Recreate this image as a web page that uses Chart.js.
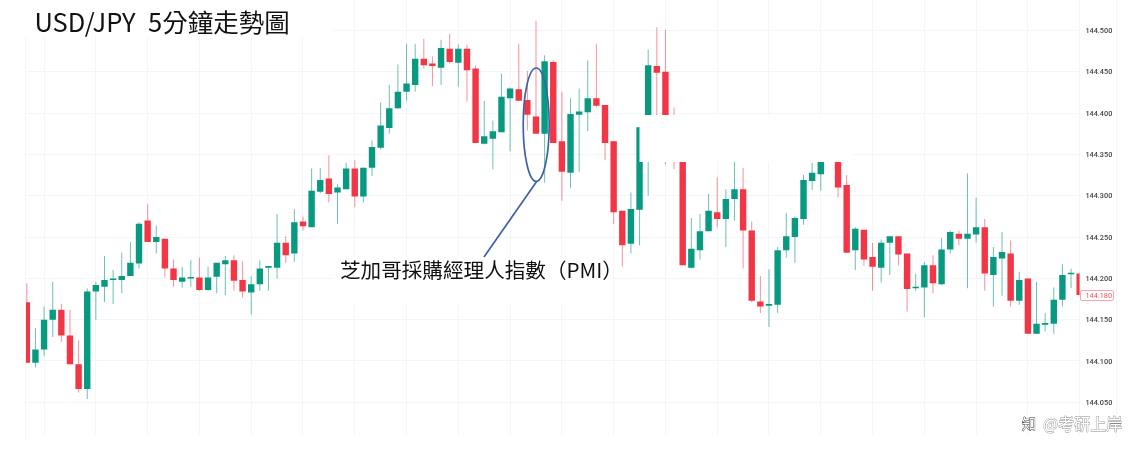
<!DOCTYPE html>
<html>
<head>
<meta charset="utf-8">
<title>USD/JPY 5分鐘走勢圖</title>
<script src="https://cdn.jsdelivr.net/npm/chart.js@4/dist/chart.umd.min.js"></script>
<style>
html, body { margin: 0; padding: 0; background: #fff; }
canvas { display: block; filter: blur(0.35px); }
</style>
</head>
<body>
<canvas id="kChart" width="1137" height="456"></canvas>
<script>
const titleText = 'USD/JPY  5分鐘走勢圖';
const noteText = '芝加哥採購經理人指數（PMI）';
const lastPriceLabel = '144.180';
const watermarkText = '@考研上岸';
const tickLabels = [144.05, 144.10, 144.15, 144.20, 144.25, 144.30, 144.35, 144.40, 144.45, 144.50];

const opens = [144.171,144.098,144.114,144.150,144.162,144.131,144.096,144.066,144.184,144.190,
  144.198,144.198,144.203,144.218,144.270,144.244,144.248,144.212,144.196,144.200,
  144.201,144.186,144.202,144.217,144.222,144.198,144.183,144.193,144.213,144.213,
  144.243,144.230,144.269,144.262,144.305,144.321,144.304,144.308,144.333,144.299,
  144.334,144.358,144.382,144.406,144.426,144.434,144.466,144.460,144.455,144.478,
  144.461,144.478,144.454,144.363,144.369,144.377,144.418,144.429,144.416,144.396,
  144.375,144.462,144.366,144.328,144.398,144.401,144.418,144.410,144.366,144.282,
  144.242,144.283,144.352,144.457,144.450,144.385,144.350,144.213,144.234,144.257,
  144.280,144.272,144.296,144.308,144.258,144.172,144.167,144.168,144.234,144.250,
  144.272,144.318,144.326,144.345,144.352,144.313,144.234,144.259,144.226,144.213,
  144.243,144.251,144.230,144.188,144.189,144.216,144.193,144.235,144.254,144.248,
  144.253,144.262,144.204,144.224,144.230,144.173,144.200,144.133,144.144,144.145,
  144.174,144.205,144.206];
const highs = [144.194,144.140,144.166,144.196,144.169,144.162,144.125,144.188,144.196,144.227,
  144.210,144.231,144.244,144.268,144.290,144.264,144.248,144.223,144.214,144.222,
  144.225,144.214,144.219,144.227,144.228,144.221,144.203,144.222,144.215,144.278,
  144.251,144.284,144.275,144.333,144.334,144.349,144.314,144.340,144.343,144.334,
  144.367,144.413,144.434,144.459,144.484,144.484,144.490,144.469,144.489,144.496,
  144.483,144.483,144.458,144.415,144.391,144.448,144.431,144.484,144.451,144.512,
  144.470,144.464,144.426,144.418,144.430,144.464,144.484,144.410,144.366,144.282,
  144.304,144.383,144.477,144.504,144.501,144.407,144.360,144.273,144.278,144.302,
  144.322,144.308,144.345,144.334,144.269,144.203,144.211,144.238,144.279,144.275,
  144.325,144.340,144.355,144.365,144.358,144.325,144.262,144.259,144.243,144.247,
  144.251,144.251,144.230,144.206,144.220,144.228,144.249,144.258,144.258,144.327,
  144.298,144.272,144.238,144.256,144.246,144.208,144.200,144.196,144.158,144.189,
  144.217,144.212,144.206];
const lows = [144.098,144.092,144.106,144.129,144.123,144.096,144.062,144.054,144.150,144.171,
  144.169,144.182,144.203,144.212,144.244,144.230,144.201,144.190,144.189,144.190,
  144.185,144.185,144.182,144.180,144.185,144.177,144.156,144.185,144.185,144.200,
  144.219,144.220,144.258,144.262,144.303,144.292,144.266,144.308,144.286,144.292,
  144.324,144.356,144.375,144.405,144.415,144.426,144.454,144.433,144.434,144.460,
  144.432,144.414,144.364,144.362,144.332,144.377,144.354,144.415,144.379,144.375,
  144.316,144.364,144.294,144.309,144.329,144.378,144.407,144.343,144.266,144.214,
  144.230,144.240,144.300,144.370,144.338,144.332,144.216,144.212,144.223,144.257,
  144.262,144.238,144.270,144.212,144.171,144.158,144.141,144.158,144.225,144.219,
  144.265,144.307,144.306,144.342,144.298,144.231,144.210,144.215,144.185,144.195,
  144.204,144.216,144.160,144.185,144.153,144.182,144.192,144.230,144.240,144.188,
  144.243,144.185,144.166,144.179,144.166,144.168,144.133,144.133,144.136,144.133,
  144.166,144.188,144.180];
const closes = [144.098,144.114,144.150,144.162,144.131,144.096,144.066,144.184,144.192,144.198,
  144.199,144.203,144.219,144.266,144.244,144.250,144.212,144.198,144.201,144.201,
  144.186,144.201,144.219,144.222,144.197,144.184,144.193,144.212,144.215,144.243,
  144.228,144.268,144.263,144.306,144.319,144.302,144.310,144.333,144.299,144.334,
  144.359,144.385,144.406,144.426,144.436,144.466,144.458,144.457,144.479,144.462,
  144.478,144.452,144.364,144.372,144.378,144.420,144.430,144.415,144.398,144.375,
  144.463,144.364,144.329,144.399,144.402,144.418,144.409,144.364,144.280,144.240,
  144.284,144.383,144.458,144.449,144.360,144.355,144.216,144.236,144.257,144.282,
  144.272,144.296,144.308,144.258,144.173,144.166,144.169,144.234,144.251,144.273,
  144.319,144.328,144.350,144.358,144.310,144.231,144.260,144.223,144.214,144.243,
  144.251,144.229,144.187,144.190,144.216,144.194,144.235,144.256,144.248,144.254,
  144.262,144.206,144.226,144.232,144.173,144.198,144.133,144.145,144.146,144.174,
  144.204,144.206,144.180];

const gridIdx = [];
for (let i = 2; i < opens.length; i += 6) gridIdx.push(i);

const upColor = '#089981';
const downColor = '#F23645';
const upWick = 'rgba(8,153,129,0.6)';
const downWick = 'rgba(242,54,69,0.55)';
const gridColor = '#f4f5f7';
const candleColor = (c) => closes[c.dataIndex] >= opens[c.dataIndex] ? upColor : downColor;
const wickColor = (c) => closes[c.dataIndex] >= opens[c.dataIndex] ? upWick : downWick;

// annotations, title and the white patches sit on top of the candles
const overlay = {
  id: 'overlay',
  afterDraw(chart) {
    const ctx = chart.ctx;
    ctx.save();
    ctx.fillStyle = '#fff';
    ctx.fillRect(0, 0, 333, 36);
    ctx.fillRect(333, 257, 279, 46);
    ctx.fillRect(639.5, 115, 213.5, 47);

    // outer frame lines of the screenshot
    ctx.strokeStyle = gridColor;
    ctx.lineWidth = 1;
    ctx.beginPath();
    ctx.moveTo(25.5, 36); ctx.lineTo(25.5, 439);
    ctx.moveTo(1116.5, 0); ctx.lineTo(1116.5, 438);
    ctx.stroke();

    ctx.textBaseline = 'alphabetic';
    ctx.fillStyle = '#111';
    ctx.font = '25.5px "Noto Sans CJK TC"';
    ctx.wordSpacing = '0.5px';
    ctx.fillText(titleText, 34.5, 32);
    ctx.wordSpacing = '0px';
    ctx.font = '20.6px "Noto Sans CJK TC"';
    ctx.fillText(noteText, 340, 278);

    ctx.strokeStyle = '#3c62a6';
    ctx.lineWidth = 1.7;
    ctx.beginPath();
    ctx.ellipse(536.2, 124.7, 13, 56.7, 0, 0, Math.PI * 2);
    ctx.moveTo(537, 181);
    ctx.lineTo(484, 257);
    ctx.stroke();

    // last price tag
    ctx.fillStyle = '#fff';
    ctx.strokeStyle = '#f7a6ad';
    ctx.lineWidth = 1;
    ctx.beginPath();
    ctx.roundRect(1080.5, 290.5, 33, 10, 1.5);
    ctx.fill();
    ctx.stroke();
    ctx.fillStyle = '#f0525f';
    ctx.font = '7.3px Roboto';
    ctx.textBaseline = 'middle';
    ctx.fillText(lastPriceLabel, 1085.5, 295.8);

    // watermark
    ctx.textBaseline = 'middle';
    ctx.font = '16px "Noto Sans CJK SC"';
    ctx.lineWidth = 0.8;
    ctx.strokeStyle = '#888';
    ctx.fillStyle = '#fff';
    ctx.strokeText(watermarkText, 1043, 424);
    ctx.fillText(watermarkText, 1043, 424);
    ctx.strokeStyle = '#222';
    ctx.font = '14px "Noto Sans CJK SC"';
    ctx.strokeText('知', 1022, 424);
    ctx.fillText('知', 1022, 424);
    ctx.restore();
  }
};

new Chart(document.getElementById('kChart'), {
  type: 'bar',
  data: {
    datasets: [
      {
        label: 'wick',
        data: opens.map((o, i) => ({ x: i, y: [lows[i], highs[i]] })),
        backgroundColor: wickColor,
        barThickness: 1,
        inflateAmount: 0,
        grouped: false,
        order: 2
      },
      {
        label: 'body',
        data: opens.map((o, i) => ({ x: i, y: [o, closes[i]] })),
        backgroundColor: candleColor,
        barThickness: 6.4,
        minBarLength: 1.5,
        inflateAmount: 0,
        grouped: false,
        order: 1
      }
    ]
  },
  options: {
    responsive: false,
    animation: false,
    layout: { autoPadding: false, padding: { left: 25.7, top: 0, right: 0, bottom: 0 } },
    plugins: { legend: { display: false }, title: { display: false }, tooltip: { enabled: false } },
    scales: {
      x: {
        type: 'linear',
        offset: false,
        min: -0.13,
        max: 121.98,
        afterBuildTicks: (scale) => { scale.ticks = gridIdx.map((v) => ({ value: v })); },
        afterFit: (scale) => { scale.height = 21; scale.paddingLeft = 0; scale.paddingRight = 0; },
        ticks: { display: false },
        grid: { color: gridColor, drawTicks: false, offset: false },
        border: { display: false }
      },
      y: {
        position: 'right',
        min: 144.0104,
        max: 144.537,
        afterBuildTicks: (scale) => { scale.ticks = tickLabels.map((v) => ({ value: v })); },
        afterFit: (scale) => { scale.width = 57.5; scale.paddingTop = 0; scale.paddingBottom = 0; },
        ticks: {
          padding: 5.9,
          labelOffset: 0.8,
          color: '#444',
          font: { family: 'Roboto', size: 7.3, weight: '500' },
          callback: (v) => v.toFixed(3)
        },
        grid: { color: gridColor, drawTicks: false },
        border: { display: false }
      }
    }
  },
  plugins: [overlay]
});
</script>
</body>
</html>
